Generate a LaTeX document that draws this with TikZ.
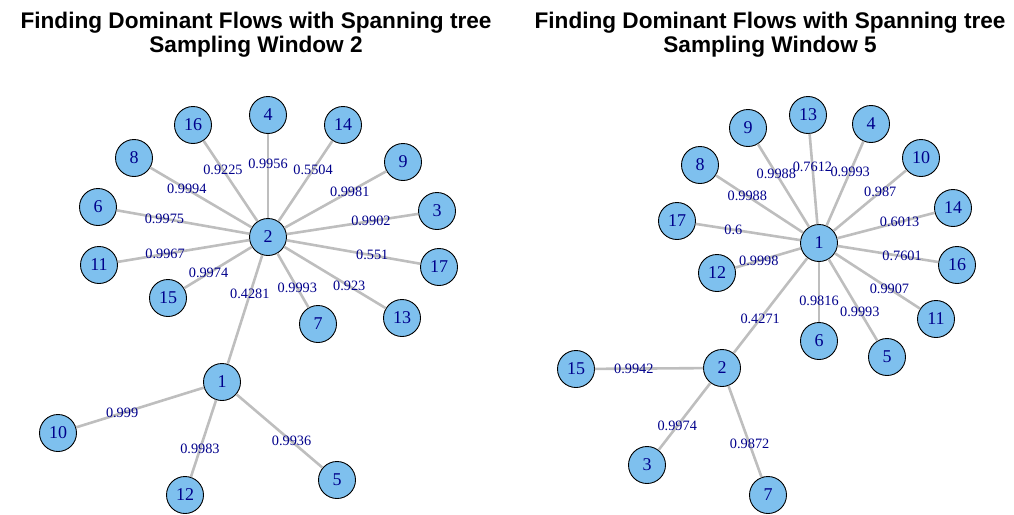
\documentclass[tikz,border=0pt]{standalone}
\usepackage{fontspec}
\setmainfont{Liberation Serif}
\newfontfamily\titlefont{Liberation Sans}
\definecolor{vfill}{RGB}{126,192,238}
\definecolor{vtext}{RGB}{0,0,139}
\definecolor{egray}{RGB}{190,190,190}
\begin{document}
\begin{tikzpicture}[x=1pt, y=-1pt,
    vert/.style={circle, draw=black, line width=0.9pt, fill=vfill, minimum size=37pt, inner sep=0pt, text=vtext, font=\fontsize{18}{18}\selectfont},
    edge/.style={draw=egray, line width=2.6pt},
    wt/.style={pos=0.64, text=vtext, inner sep=0pt, font=\fontsize{14.3}{14.3}\selectfont},
    ttl/.style={align=center, font=\titlefont\bfseries\fontsize{22.6}{24.5}\selectfont}]
  \useasboundingbox (0,0) rectangle (1014,514);
  % titles
  \node[ttl] (ttlA) at (256,34.5) {Finding Dominant Flows with Spanning tree\\Sampling Window 2};
  \node[ttl] (ttlB) at (770,34.5) {Finding Dominant Flows with Spanning tree\\Sampling Window 5};
  % window 2
  \node[vert] (a2) at (268,237) {2};
  \node[vert] (a4) at (268,115) {4};
  \node[vert] (a16) at (193,125) {16};
  \node[vert] (a8) at (134,158) {8};
  \node[vert] (a6) at (98,207) {6};
  \node[vert] (a11) at (99,265) {11};
  \node[vert] (a15) at (168,298) {15};
  \node[vert] (a7) at (318,324) {7};
  \node[vert] (a13) at (402,318) {13};
  \node[vert] (a17) at (439,267) {17};
  \node[vert] (a3) at (437,211) {3};
  \node[vert] (a9) at (403,162) {9};
  \node[vert] (a14) at (343,125) {14};
  \node[vert] (a1) at (222,382) {1};
  \node[vert] (a10) at (58,433) {10};
  \node[vert] (a12) at (185,495) {12};
  \node[vert] (a5) at (337,480) {5};
  \draw[edge] (a2) -- node[wt]{0.9956} (a4);
  \draw[edge] (a2) -- node[wt]{0.9225} (a16);
  \draw[edge] (a2) -- node[wt]{0.9994} (a8);
  \draw[edge] (a2) -- node[wt]{0.9975} (a6);
  \draw[edge] (a2) -- node[wt]{0.9967} (a11);
  \draw[edge] (a2) -- node[wt]{0.9974} (a15);
  \draw[edge] (a2) -- node[wt]{0.9993} (a7);
  \draw[edge] (a2) -- node[wt]{0.923} (a13);
  \draw[edge] (a2) -- node[wt]{0.551} (a17);
  \draw[edge] (a2) -- node[wt]{0.9902} (a3);
  \draw[edge] (a2) -- node[wt]{0.9981} (a9);
  \draw[edge] (a2) -- node[wt]{0.5504} (a14);
  \draw[edge] (a1) -- node[wt]{0.4281} (a2);
  \draw[edge] (a1) -- node[wt]{0.999} (a10);
  \draw[edge] (a1) -- node[wt]{0.9983} (a12);
  \draw[edge] (a1) -- node[wt]{0.9936} (a5);
  % window 5
  \node[vert] (b1) at (819,243) {1};
  \node[vert] (b13) at (808,115) {13};
  \node[vert] (b9) at (748,128) {9};
  \node[vert] (b8) at (700,165) {8};
  \node[vert] (b17) at (677,221) {17};
  \node[vert] (b12) at (717,273) {12};
  \node[vert] (b6) at (819,341) {6};
  \node[vert] (b4) at (871,124) {4};
  \node[vert] (b10) at (921,158) {10};
  \node[vert] (b14) at (953,208) {14};
  \node[vert] (b16) at (957,265) {16};
  \node[vert] (b11) at (936,319) {11};
  \node[vert] (b5) at (887,357) {5};
  \node[vert] (b2) at (722,368) {2};
  \node[vert] (b15) at (576,369) {15};
  \node[vert] (b3) at (647,465) {3};
  \node[vert] (b7) at (768,495) {7};
  \draw[edge] (b1) -- node[wt]{0.7612} (b13);
  \draw[edge] (b1) -- node[wt]{0.9988} (b9);
  \draw[edge] (b1) -- node[wt]{0.9988} (b8);
  \draw[edge] (b1) -- node[wt]{0.6} (b17);
  \draw[edge] (b1) -- node[wt]{0.9998} (b12);
  \draw[edge] (b1) -- node[wt]{0.9816} (b6);
  \draw[edge] (b1) -- node[wt]{0.9993} (b4);
  \draw[edge] (b1) -- node[wt]{0.987} (b10);
  \draw[edge] (b1) -- node[wt]{0.6013} (b14);
  \draw[edge] (b1) -- node[wt]{0.7601} (b16);
  \draw[edge] (b1) -- node[wt]{0.9907} (b11);
  \draw[edge] (b1) -- node[wt]{0.9993} (b5);
  \draw[edge] (b1) -- node[wt]{0.4271} (b2);
  \draw[edge] (b2) -- node[wt]{0.9942} (b15);
  \draw[edge] (b2) -- node[wt]{0.9974} (b3);
  \draw[edge] (b2) -- node[wt]{0.9872} (b7);
\end{tikzpicture}
\end{document}
